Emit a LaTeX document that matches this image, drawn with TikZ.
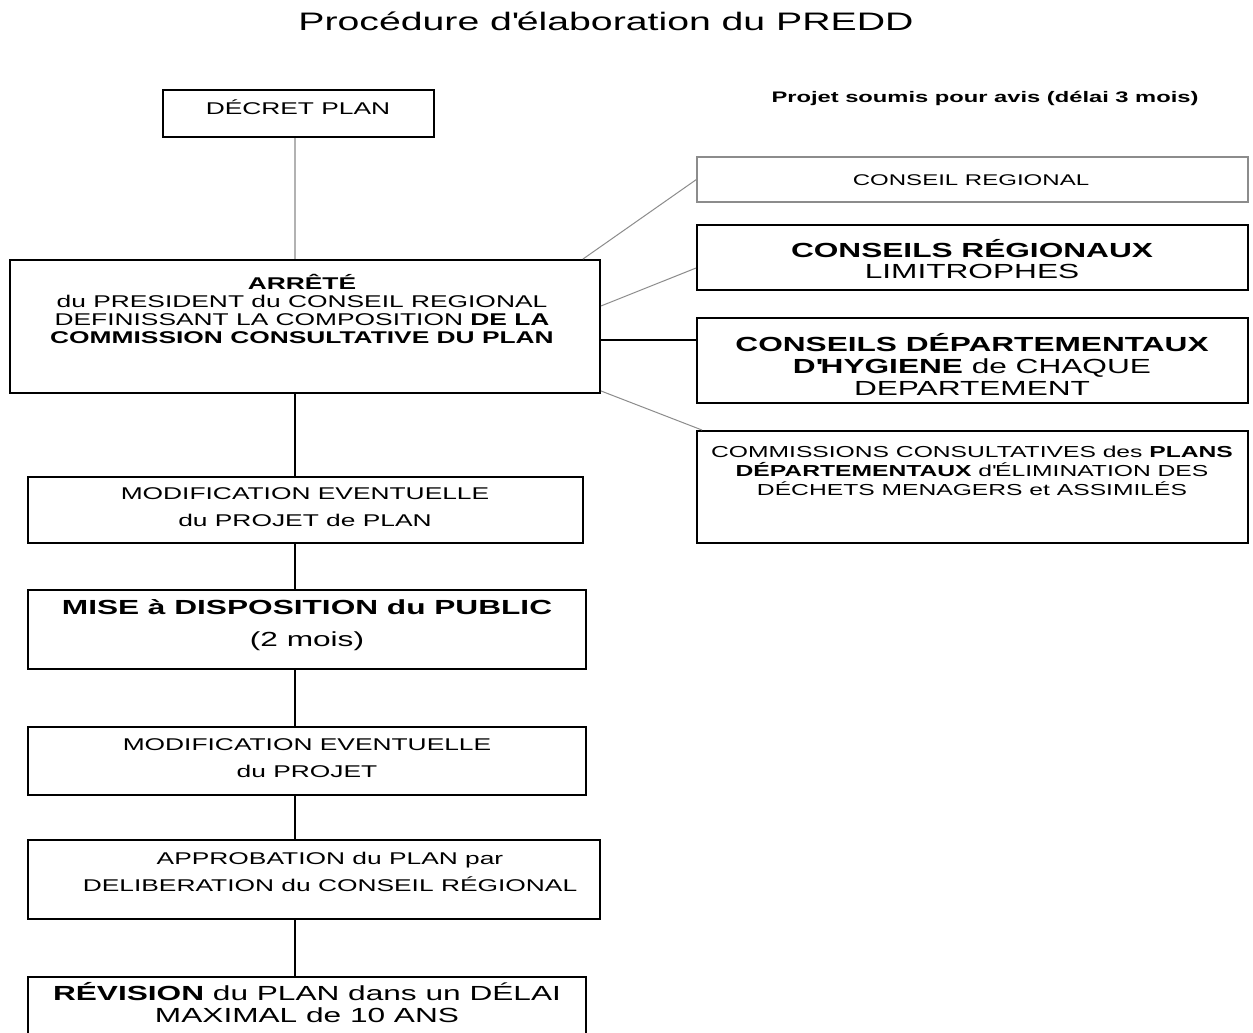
\documentclass[tikz,border=0pt]{standalone}
\usepackage{fontspec}
\setmainfont[FakeStretch=1.55]{Liberation Sans}
\usetikzlibrary{calc}
\tikzset{
 box/.style={draw=black, line width=1.9pt, rectangle, inner sep=0pt},
 lightbox/.style={draw=black!45, line width=1.2pt, rectangle, inner sep=0pt},
 txt/.style={align=center, inner sep=0pt, text=black},
 link/.style={draw=black, line width=1.8pt},
 glink/.style={draw=black!45, line width=1pt},
 declink/.style={draw=black!30, line width=1.6pt},
}
\newcommand{\fsz}[2]{\fontsize{#1}{#2}\selectfont}
\newcommand{\apos}{\textquotesingle}
\begin{document}
\begin{tikzpicture}[x=1pt,y=-1pt]
\useasboundingbox (0,0) rectangle (1253,1033);
\clip (0,0) rectangle (1253,1033);
\fill[white] (0,0) rectangle (1253,1033);

\node[txt,font=\fsz{25.3}{30}] (title) at (606,21) {Procédure d\apos élaboration du PREDD};

% left column
\node[box,minimum width=271pt,minimum height=47pt] (dec) at (298.5,113.5) {};
\node[txt,font=\fsz{17}{20}] (dect) at (298,107) {DÉCRET PLAN};

\node[box,minimum width=590pt,minimum height=133pt] (arr) at (305,326.5) {};
\node[txt,font=\fsz{17}{17.7}] (arrt) at (302,309) {\textbf{ARRÊTÉ}\\du PRESIDENT du CONSEIL REGIONAL\\DEFINISSANT LA COMPOSITION \textbf{DE LA}\\\textbf{COMMISSION CONSULTATIVE DU PLAN}};

\node[box,minimum width=555pt,minimum height=66pt] (mod1) at (305.5,510) {};
\node[txt,font=\fsz{17}{27}] (mod1t) at (305,507.5) {MODIFICATION EVENTUELLE\\du PROJET de PLAN};

\node[box,minimum width=558pt,minimum height=79pt] (mise) at (307,629.5) {};
\node[txt,font=\fsz{20.4}{32}] (miset) at (307,625) {\textbf{MISE à DISPOSITION du PUBLIC}\\(2 mois)};

\node[box,minimum width=558pt,minimum height=68pt] (mod2) at (307,761) {};
\node[txt,font=\fsz{17}{27}] (mod2t) at (307,758.5) {MODIFICATION EVENTUELLE\\du PROJET};

\node[box,minimum width=572pt,minimum height=79pt] (appr) at (314,879.5) {};
\node[txt,font=\fsz{17}{27}] (apprt) at (330,871.5) {APPROBATION du PLAN par\\DELIBERATION du CONSEIL RÉGIONAL};

\node[box,minimum width=558pt,minimum height=80pt] (rev) at (307,1017) {};
\node[txt,font=\fsz{20.4}{22}] (revt) at (307,1003) {\textbf{RÉVISION} du PLAN dans un DÉLAI\\MAXIMAL de 10 ANS};

% right column
\node[txt,font=\bfseries\fsz{15.3}{18}] (proj) at (985,98) {Projet soumis pour avis (délai 3 mois)};

\node[lightbox,minimum width=551pt,minimum height=45pt] (cr) at (972.5,179.5) {};
\node[txt,font=\fsz{15.5}{18}] (crt) at (971,180) {CONSEIL REGIONAL};

\node[box,minimum width=551pt,minimum height=65pt] (lim) at (972.5,257.5) {};
\node[txt,font=\fsz{20.4}{21}] (limt) at (972,259) {\textbf{CONSEILS RÉGIONAUX}\\LIMITROPHES};

\node[box,minimum width=551pt,minimum height=85pt] (dep) at (972.5,360.5) {};
\node[txt,font=\fsz{20.4}{22}] (dept) at (972,364) {\textbf{CONSEILS DÉPARTEMENTAUX}\\\textbf{D\apos HYGIENE} de CHAQUE\\DEPARTEMENT};

\node[box,minimum width=551pt,minimum height=112pt] (comm) at (972.5,487) {};
\node[txt,font=\fsz{15.9}{19}] (commt) at (972,471) {COMMISSIONS CONSULTATIVES des \textbf{PLANS}\\\textbf{DÉPARTEMENTAUX} d\apos ÉLIMINATION DES\\DÉCHETS MENAGERS et ASSIMILÉS};

% connectors
\coordinate (sp) at (295,0);
\draw[declink] (dec.south -| sp) -- (arr.north -| sp);
\draw[link] (arr.south -| sp) -- (mod1.north -| sp);
\draw[link] (mod1.south -| sp) -- (mise.north -| sp);
\draw[link] (mise.south -| sp) -- (mod2.north -| sp);
\draw[link] (mod2.south -| sp) -- (appr.north -| sp);
\draw[link] (appr.south -| sp) -- (rev.north -| sp);

\draw[glink] ($(arr.north east)+(-18,0)$) -- (cr.west);
\draw[glink] ($(arr.east)+(0,-20.5)$) -- ($(lim.west)+(0,10.5)$);
\coordinate (m) at ($(dep.west)+(0,-20.5)$);
\draw[link] (m -| arr.east) -- (m);
\draw[glink] ($(arr.south east)+(0,-3)$) -- ($(comm.north west)+(6,0)$);
\end{tikzpicture}
\end{document}
